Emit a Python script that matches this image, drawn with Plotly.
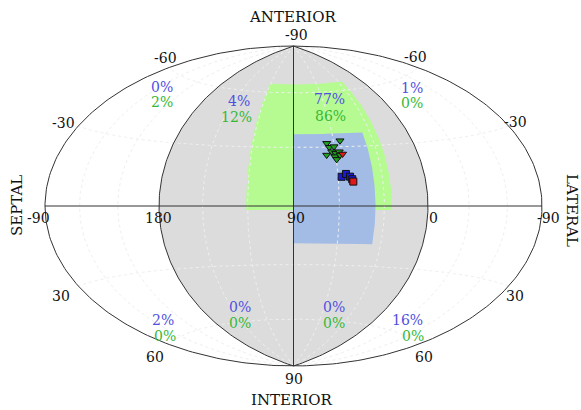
import numpy as np
import plotly.graph_objects as go

# ---- data -------------------------------------------------------------
# hemisphere shaded in gray (longitude range, degrees)
hemi_lon = [0, 180]
# green and blue acceptance windows (longitude / latitude ranges, degrees)
green_lon = [25, 121]
green_lat = [-65, 2]
blue_lon = [36, 90]
blue_lat = [-37, 19]

# measured orientations: triangles (green) and squares (blue); red = reference
tri_lon = [65.4, 55.1, 63.9, 60.4, 62.6, 59.9, 57.2, 66.5, 60.8, 57.0, 59.8]
tri_lat = [-32.0, -33.2, -29.9, -30.2, -27.6, -26.7, -27.5, -25.9, -25.0, -25.8, -23.6]
tri_ref_lon = [55.1]
tri_ref_lat = [-26.3]
sq_lon = [57.7, 54.6, 52.0, 50.7]
sq_lat = [-14.7, -16.1, -14.7, -13.4]
sq_ref_lon = [50.1]
sq_ref_lat = [-12.2]

# percentage of points per sector (blue / green)
blue_pct = [0, 4, 77, 1, 2, 0, 0, 16]
green_pct = [2, 12, 86, 0, 0, 0, 0, 0]

# tick labels
lat_ticks = ["-60", "-30", "-60", "-30", "30", "60", "30", "60"]
equator_ticks = ["-90", "180", "90", "0", "-90"]
pole_ticks = ["-90", "90"]
view_names = ["ANTERIOR", "INTERIOR", "SEPTAL", "LATERAL"]

# ---- projection (Hammer, centred on longitude 90, south up) -----------
W, H = 581, 410
CX, CY = 293.5, 206.0
SX, SY = 87.86, 113.1


def proj(lon, lat):
    lam = np.radians(90.0 - np.asarray(lon, dtype=float))
    phi = np.radians(-np.asarray(lat, dtype=float))
    d = np.sqrt(1.0 + np.cos(phi) * np.cos(lam / 2.0))
    x = 2.0 * np.sqrt(2.0) * np.cos(phi) * np.sin(lam / 2.0) / d
    y = np.sqrt(2.0) * np.sin(phi) / d
    return x, y


def box(lon_rng, lat_rng, n=80):
    a, b = lon_rng
    c, d = lat_rng
    lon = np.concatenate([np.linspace(a, b, n), np.full(n, b),
                          np.linspace(b, a, n), np.full(n, a)])
    lat = np.concatenate([np.full(n, c), np.linspace(c, d, n),
                          np.full(n, d), np.linspace(d, c, n)])
    return proj(lon, lat)


def meridian(lon, n=181):
    lat = np.linspace(-90, 90, n)
    return proj(np.full(n, lon), lat)


def parallel(lat, n=361):
    lon = np.linspace(-90, 270, n)
    return proj(lon, np.full(n, lat))


fig = go.Figure()

# gray hemisphere
hx, hy = box(hemi_lon, [-90, 90], 181)
fig.add_trace(go.Scatter(x=hx, y=hy, fill="toself", fillcolor="#dcdcdc",
                         mode="lines", line=dict(width=0), hoverinfo="skip"))

# green and blue windows
gx, gy = box(green_lon, green_lat)
fig.add_trace(go.Scatter(x=gx, y=gy, fill="toself", fillcolor="#b6fb92",
                         mode="lines", line=dict(width=0), hoverinfo="skip"))
bx, by = box(blue_lon, blue_lat)
fig.add_trace(go.Scatter(x=bx, y=by, fill="toself", fillcolor="#a3bce6",
                         mode="lines", line=dict(width=0), hoverinfo="skip"))

# faint dotted graticule
grid = dict(color="#efefef", width=1, dash="dot")
for la in [-60, -30, 30, 60]:
    x, y = parallel(la)
    fig.add_trace(go.Scatter(x=x, y=y, mode="lines", line=grid, hoverinfo="skip"))
for lo in [-60, -30, 30, 60, 120, 150, 210, 240]:
    x, y = meridian(lo)
    fig.add_trace(go.Scatter(x=x, y=y, mode="lines", line=grid, hoverinfo="skip"))

# outline: boundary, hemisphere edges, central meridian, equator
edge = dict(color="#333333", width=1)
ox1, oy1 = meridian(-90)
ox2, oy2 = meridian(270)
fig.add_trace(go.Scatter(x=np.concatenate([ox1, ox2[::-1]]),
                         y=np.concatenate([oy1, oy2[::-1]]),
                         mode="lines", line=edge, hoverinfo="skip"))
for lo in [0, 90, 180]:
    x, y = meridian(lo)
    fig.add_trace(go.Scatter(x=x, y=y, mode="lines", line=edge, hoverinfo="skip"))
x, y = parallel(0)
fig.add_trace(go.Scatter(x=x, y=y, mode="lines", line=edge, hoverinfo="skip"))

# markers
mk_line = dict(color="#111111", width=1)
x, y = proj(tri_lon, tri_lat)
fig.add_trace(go.Scatter(x=x, y=y, mode="markers",
                         marker=dict(symbol="triangle-down", size=7, color="#1fa01f", line=mk_line)))
x, y = proj(tri_ref_lon, tri_ref_lat)
fig.add_trace(go.Scatter(x=x, y=y, mode="markers",
                         marker=dict(symbol="triangle-down", size=7, color="#e01818", line=mk_line)))
x, y = proj(sq_lon, sq_lat)
fig.add_trace(go.Scatter(x=x, y=y, mode="markers",
                         marker=dict(symbol="square", size=7, color="#1a1ad0", line=mk_line)))
x, y = proj(sq_ref_lon, sq_ref_lat)
fig.add_trace(go.Scatter(x=x, y=y, mode="markers",
                         marker=dict(symbol="square", size=7, color="#e01818", line=mk_line)))

FONT = "DejaVu Serif"


def label(text, px, py, color="#111111", size=14, angle=0):
    fig.add_annotation(x=px / W, y=1 - py / H, xref="paper", yref="paper",
                       text=text, showarrow=False, textangle=angle,
                       font=dict(family=FONT, size=size, color=color),
                       xanchor="center", yanchor="middle")


# percentages per sector
pct_pos = [(162, 87), (239, 101), (329, 99), (412, 88),
           (163, 320), (240, 307), (334, 307), (407, 320)]
green_pos = [(162, 102), (236, 117), (330, 116), (412, 103),
             (165, 336), (240, 323), (334, 323), (413, 336)]
for v, (px, py) in zip(blue_pct, pct_pos):
    label(f"{v}%", px, py, color="#5050e0")
for v, (px, py) in zip(green_pct, green_pos):
    label(f"{v}%", px, py, color="#36b836")

# latitude labels around the boundary
lat_pos = [(165, 58), (63, 123), (415, 57), (515, 122),
           (61, 296), (155, 357), (515, 296), (424, 357)]
for t, (px, py) in zip(lat_ticks, lat_pos):
    label(t, px, py)

# longitude labels along the equator
eq_pos = [(38, 218), (158, 218), (296, 218), (433, 218), (548, 218)]
for t, (px, py) in zip(equator_ticks, eq_pos):
    label(t, px, py)

# pole labels
label(pole_ticks[0], 296, 35)
label(pole_ticks[1], 294, 379)

# view names
label(view_names[0], 292, 17, size=15)
label(view_names[1], 292, 400, size=15)
label(view_names[2], 17, 206, size=15, angle=-90)
label(view_names[3], 572, 210, size=15, angle=90)

fig.update_layout(
    width=W, height=H, margin=dict(l=0, r=0, t=0, b=0),
    paper_bgcolor="white", plot_bgcolor="white", showlegend=False,
    xaxis=dict(range=[(0 - CX) / SX, (W - CX) / SX], visible=False, fixedrange=True),
    yaxis=dict(range=[(CY - H) / SY, CY / SY], visible=False, fixedrange=True),
)

fig.write_html("out.html")
